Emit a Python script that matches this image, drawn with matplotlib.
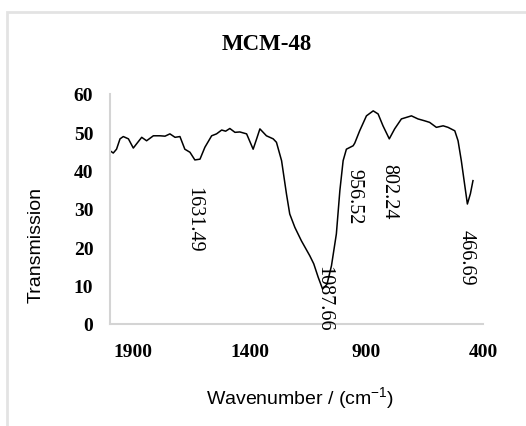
import matplotlib
matplotlib.use("Agg")
import matplotlib.pyplot as plt
from matplotlib.patches import Rectangle

plt.rcParams["mathtext.fontset"] = "custom"
plt.rcParams["mathtext.rm"] = "Liberation Sans"
plt.rcParams["mathtext.it"] = "Liberation Sans"

# Data (wavenumber cm-1, transmission)
wavenumber = [2000, 1986, 1972, 1957, 1943, 1921, 1900, 1886, 1864, 1843, 1814, 1786,
              1764, 1743, 1721, 1700, 1679, 1657, 1636, 1614, 1593, 1564, 1543, 1521,
              1504, 1486, 1464, 1443, 1414, 1386, 1371, 1357, 1329, 1300, 1286, 1264,
              1243, 1229, 1207, 1179, 1143, 1126, 1107, 1088, 1069, 1050, 1029, 1014,
              1000, 986, 957, 950, 929, 900, 871, 850, 829, 802, 779, 750, 707, 679,
              650, 629, 600, 571, 550, 521, 507, 493, 479, 467, 454, 443]
transmission = [45.2, 44.6, 45.6, 48.3, 48.9, 48.3, 45.9, 47.0, 48.7, 47.8, 49.1, 49.1,
                49.0, 49.6, 48.7, 48.9, 45.6, 44.8, 42.8, 43.0, 46.1, 49.1, 49.6, 50.6,
                50.3, 51.0, 50.0, 50.1, 49.6, 45.6, 48.3, 50.9, 49.1, 48.3, 47.4, 42.6,
                33.9, 28.7, 25.2, 21.7, 17.8, 15.7, 12.2, 9.1, 10.4, 15.2, 23.5, 34.8,
                42.6, 45.6, 46.5, 47.2, 50.4, 54.3, 55.6, 54.8, 51.7, 48.3, 50.9, 53.5,
                54.3, 53.5, 53.0, 52.6, 51.3, 51.7, 51.3, 50.4, 47.8, 42.6, 36.5, 31.3,
                34.0, 37.4]

peak_labels = ["1631.49", "1087.66", "956.52", "802.24", "466.69"]
peak_label_x = [1640, 1082, 953, 803, 473]
peak_label_y = [27.5, 6.8, 33.5, 34.8, 17.5]

x_ticks = [1900, 1400, 900, 400]
y_ticks = [0, 10, 20, 30, 40, 50, 60]

fig = plt.figure(figsize=(5.26, 4.27), dpi=100)
ax = fig.add_axes([110 / 526, 1 - 325 / 427, (483 - 110) / 526, (325 - 95) / 427])

ax.plot(wavenumber, transmission, color="black", lw=1.1, solid_joinstyle="round")

ax.set_xlim(2000, 400)
ax.set_ylim(0, 60)
ax.set_xticks(x_ticks)
ax.set_yticks(y_ticks)
ax.tick_params(length=0)
for lab in ax.get_xticklabels() + ax.get_yticklabels():
    lab.set_fontfamily("Liberation Serif")
    lab.set_fontweight("bold")
    lab.set_fontsize(14)
ax.tick_params(axis="x", pad=14)
ax.tick_params(axis="y", pad=12)

for s in ["top", "right"]:
    ax.spines[s].set_visible(False)
for s in ["left", "bottom"]:
    ax.spines[s].set_color("#d4d4d4")
    ax.spines[s].set_linewidth(1.5)

for lab, lx, ly in zip(peak_labels, peak_label_x, peak_label_y):
    ax.text(lx, ly, lab, rotation=270, ha="center", va="center",
            fontfamily="Liberation Serif", fontsize=14.5)

fig.text(267 / 526, 1 - 45 / 427, "MCM-48", ha="center", va="center",
         fontfamily="Liberation Serif", fontweight="bold", fontsize=16.5)
fig.text(36 / 526, 1 - 245 / 427, "Transmission", rotation=90, ha="center", va="center",
         fontfamily="Liberation Sans", fontsize=14)
fig.text(300 / 526, 1 - 398 / 427, r"Wavenumber / (cm$^{\mathregular{-1}}$)", ha="center", va="center",
         fontfamily="Liberation Sans", fontsize=14)

fig.patches.append(Rectangle((7 / 526, -0.1), 1.2, 1.1 - 13 / 427,
                             transform=fig.transFigure, fill=False,
                             edgecolor="#e3e3e3", lw=2))

fig.savefig("out.png", dpi=100)
